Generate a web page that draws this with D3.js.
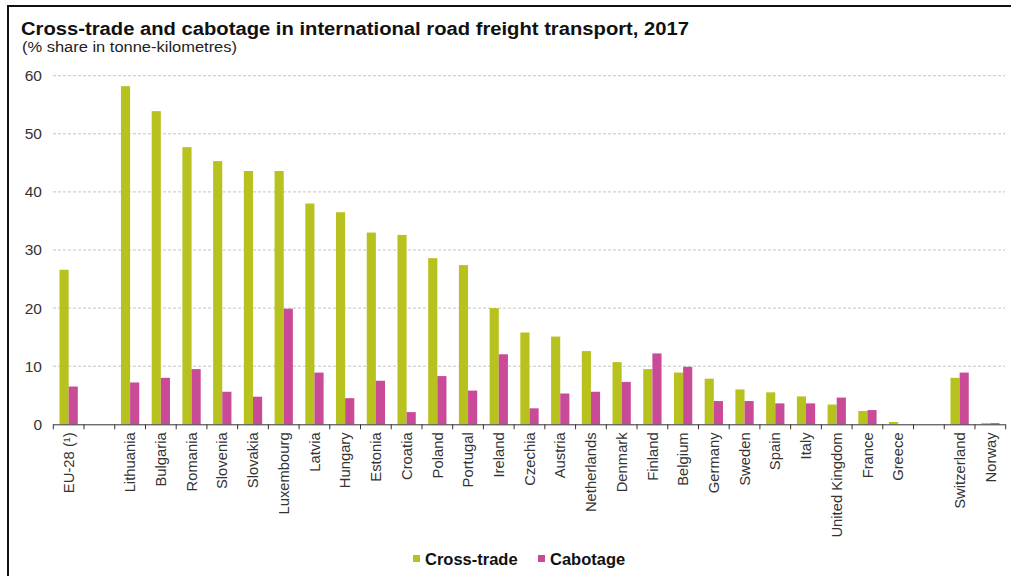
<!DOCTYPE html>
<html><head><meta charset="utf-8">
<script src="https://cdn.jsdelivr.net/npm/d3@7"></script>
<style>
html,body{margin:0;padding:0;background:#fff;}
svg{display:block;font-family:Arial,"Liberation Sans",sans-serif;}
</style></head>
<body>
<svg id="c" width="1011" height="576"></svg>
<script>
const categories = ["EU-28 (¹)","", "Lithuania","Bulgaria","Romania","Slovenia","Slovakia","Luxembourg","Latvia","Hungary","Estonia","Croatia","Poland","Portugal","Ireland","Czechia","Austria","Netherlands","Denmark","Finland","Belgium","Germany","Sweden","Spain","Italy","United Kingdom","France","Greece"," ","Switzerland","Norway"];
const crossTrade = [26.6,null,58.2,53.9,47.7,45.3,43.6,43.6,38.0,36.5,33.0,32.6,28.6,27.4,20.0,15.8,15.1,12.6,10.7,9.5,8.9,7.85,6.0,5.5,4.8,3.4,2.3,0.4,null,8.0,0.2];
const cabotage   = [6.5,null,7.2,8.0,9.5,5.6,4.75,19.9,8.9,4.5,7.5,2.1,8.3,5.8,12.05,2.75,5.3,5.6,7.3,12.2,9.9,4.0,4.0,3.6,3.6,4.6,2.45,0,null,8.9,0.2];
const yTicks = [0,10,20,30,40,50,60];
const seriesNames = ["Cross-trade","Cabotage"];
const colors = ["#b8c21e","#c94b98"];

const svg = d3.select("#c");
// frame lines
svg.append("line").attr("x1",7).attr("x2",1011).attr("y1",6).attr("y2",6).attr("stroke","#111").attr("stroke-width",2);
svg.append("line").attr("x1",8).attr("x2",8).attr("y1",5).attr("y2",576).attr("stroke","#111").attr("stroke-width",2);

svg.append("text").attr("x",21).attr("y",35).attr("font-size",18).attr("font-weight","bold").attr("fill","#111")
  .attr("textLength",668).attr("lengthAdjust","spacingAndGlyphs")
  .text("Cross-trade and cabotage in international road freight transport, 2017");
svg.append("text").attr("x",22).attr("y",52).attr("font-size",14).attr("fill","#222")
  .attr("textLength",215).attr("lengthAdjust","spacingAndGlyphs")
  .text("(% share in tonne-kilometres)");

const x0 = d3.scaleBand().domain(d3.range(categories.length)).range([53.3,1005.7]).padding(0);
const x1 = d3.scaleBand().domain([0,1]).range([0,x0.bandwidth()]).paddingInner(0).paddingOuter(0.68);
const y = d3.scaleLinear().domain([0,60]).range([424.3,75.7]);

// grid
svg.append("g").selectAll("line").data(yTicks.filter(d=>d>0)).join("line")
  .attr("x1",53).attr("x2",1005).attr("y1",d=>y(d)).attr("y2",d=>y(d))
  .attr("stroke","#c4c4c4").attr("stroke-dasharray","3,2").attr("stroke-width",1);

// y axis labels
const ya = svg.append("g").attr("transform","translate(53,0)")
  .call(d3.axisLeft(y).tickValues(yTicks).tickSize(0).tickPadding(11));
ya.select(".domain").remove();
ya.selectAll("text").attr("font-size",15.5).attr("fill","#333").attr("font-family","Arial,'Liberation Sans',sans-serif");

// bars
const data = categories.map((c,i)=>({i, vals:[crossTrade[i],cabotage[i]]}));
const g = svg.append("g");
data.forEach(d=>{
  d.vals.forEach((v,k)=>{
    if(v==null || v<=0) return;
    g.append("rect").attr("x",x0(d.i)+x1(k)).attr("width",x1.bandwidth())
      .attr("y",y(v)).attr("height",y(0)-y(v)).attr("fill",colors[k]);
  });
});

// x axis
const xa = svg.append("g").attr("transform",`translate(0,${y(0)})`)
  .call(d3.axisBottom(x0).tickSize(0).tickPadding(8).tickFormat(i=>categories[i].trim()));
xa.select(".domain").attr("stroke","#333").attr("d",`M53.3,0.5H1005.7`);
xa.selectAll("text").attr("font-size",14.8).attr("fill","#333")
  .attr("font-family","Arial,'Liberation Sans',sans-serif")
  .attr("transform","rotate(-90)").attr("text-anchor","end").attr("dy","0.35em").attr("x",-8).attr("y",0);
// boundary ticks
const bounds = d3.range(categories.length+1).map(i=>53.3+i*x0.step());
xa.append("g").selectAll("line").data(bounds).join("line")
  .attr("x1",d=>d).attr("x2",d=>d).attr("y1",0).attr("y2",5).attr("stroke","#333");

// legend
const leg = svg.append("g");
const lx = [413,538];
seriesNames.forEach((s,k)=>{
  leg.append("rect").attr("x",lx[k]).attr("y",555).attr("width",7).attr("height",7).attr("fill",colors[k]);
  leg.append("text").attr("x",lx[k]+12).attr("y",565).attr("font-size",16.5).attr("font-weight","bold").attr("fill","#111").text(s);
});
</script>
</body></html>
